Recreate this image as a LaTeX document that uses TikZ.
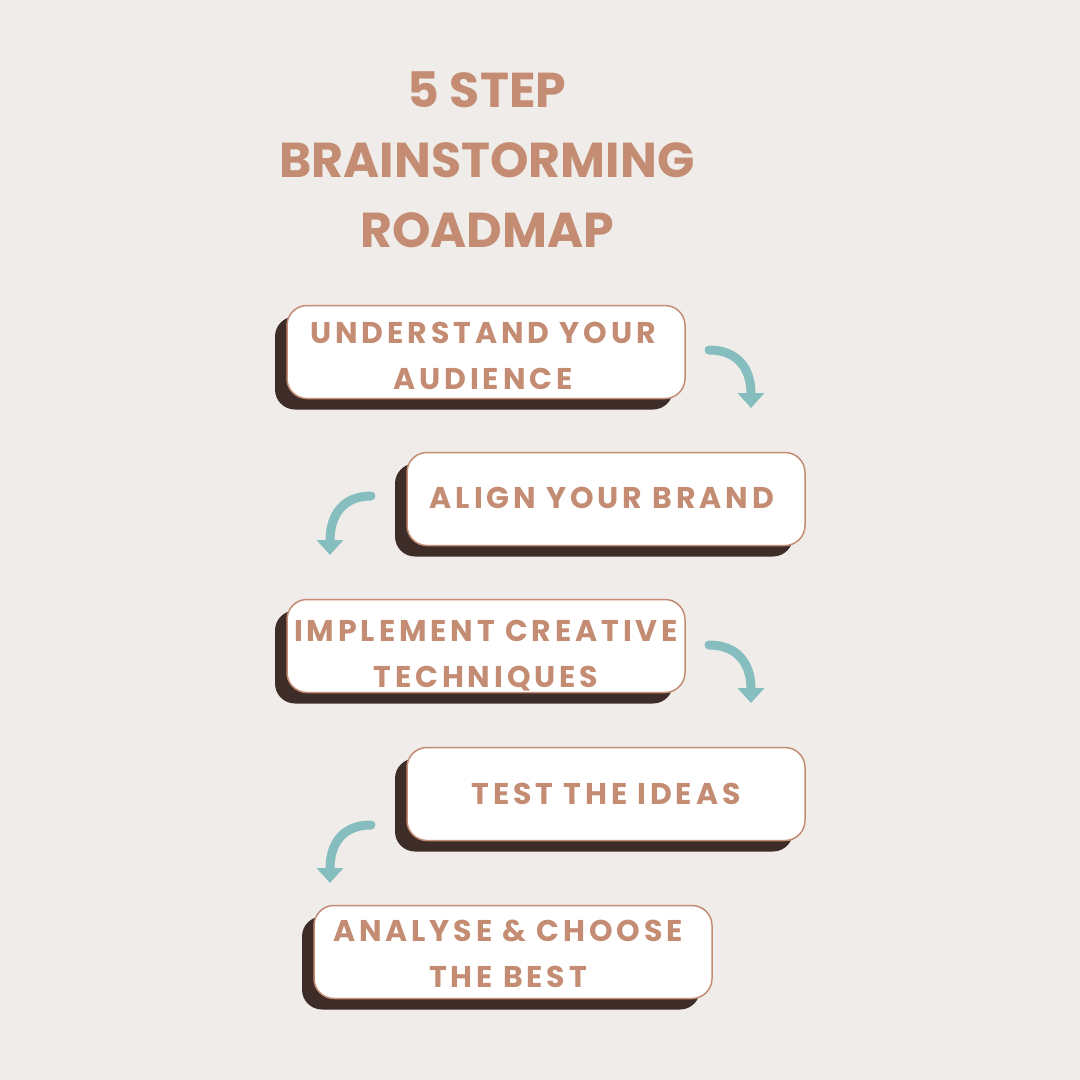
\documentclass[tikz,border=0pt]{standalone}
\usepackage{fontspec}
\setmainfont{Poppins}
\newfontfamily\boxfont[LetterSpace=13]{Poppins}
\newfontfamily\titlefont[LetterSpace=0]{Poppins}
\usetikzlibrary{arrows.meta,shadows}
\definecolor{bgc}{HTML}{F0ECE9}
\definecolor{tanc}{HTML}{C38C73}
\definecolor{darkc}{HTML}{3D2C28}
\definecolor{tealc}{HTML}{86BEC0}
\tikzset{
  stepbox/.style={draw=tanc, line width=1.5pt, fill=white, rounded corners=20pt,
    minimum width=398pt, minimum height=93pt, inner sep=0pt,
    drop shadow={shadow xshift=-12pt, shadow yshift=-11pt, fill=darkc, opacity=1}},
  steptext/.style={text=tanc, inner sep=0pt, align=center,
    font=\boxfont\bfseries\fontsize{30}{46}\selectfont},
  curvearrow/.style={draw=tealc, line width=9pt, line cap=round,
    -{Triangle[width=26pt,length=15pt]}},
  titletext/.style={text=tanc, align=center,
    font=\titlefont\bfseries\fontsize{49}{70}\selectfont}
}
\begin{document}
\begin{tikzpicture}[x=1pt,y=-1pt]
  \fill[bgc] (0,0) rectangle (1080,1080);
  \useasboundingbox (0,0) rectangle (1080,1080);
  \node[titletext] (title) at (487,160) {5 STEP\\BRAINSTORMING\\ROADMAP};
  \node[stepbox] (s1) at (486,352) {};
  \node[stepbox] (s2) at (606,499) {};
  \node[stepbox] (s3) at (486,646) {};
  \node[stepbox] (s4) at (606,794) {};
  \node[stepbox] (s5) at (513,952) {};
  \node[steptext] (t1) at (483,356) {UNDERSTAND YOUR\\AUDIENCE};
  \node[steptext] (t2) at (602,498) {ALIGN YOUR BRAND};
  \node[steptext] (t3) at (486,656) {IMPLEMENT CREATIVE\\TECHNIQUES};
  \node[steptext] (t4) at (606,794) {TEST THE IDEAS};
  \node[steptext] (t5) at (508,954) {ANALYSE \& CHOOSE\\THE BEST};
  \coordinate (a1s) at (709,350); \coordinate (a1e) at (751,408);
  \coordinate (a2s) at (371,496); \coordinate (a2e) at (330,555);
  \coordinate (a3s) at (709,645); \coordinate (a3e) at (751,703);
  \coordinate (a4s) at (371,825); \coordinate (a4e) at (330,883);
  \draw[curvearrow] (a1s) .. controls (737,350) and (751,368) .. (a1e);
  \draw[curvearrow] (a2s) .. controls (343,496) and (330,515) .. (a2e);
  \draw[curvearrow] (a3s) .. controls (737,645) and (751,663) .. (a3e);
  \draw[curvearrow] (a4s) .. controls (343,825) and (330,843) .. (a4e);
\end{tikzpicture}
\end{document}
